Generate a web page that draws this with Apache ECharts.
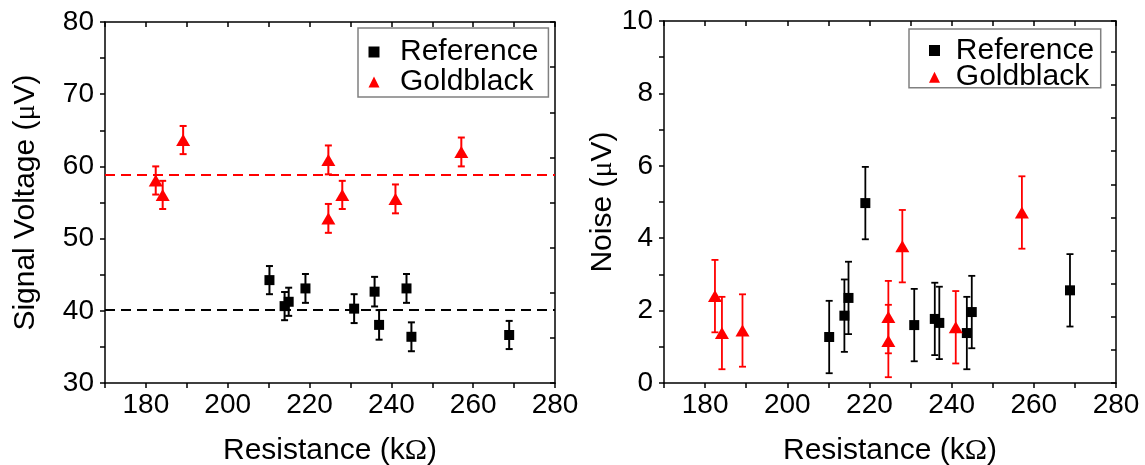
<!DOCTYPE html>
<html>
<head>
<meta charset="utf-8">
<script src="https://cdn.jsdelivr.net/npm/echarts@6/dist/echarts.min.js"></script>
<style>
  html, body { margin: 0; padding: 0; background: #fff; }
  #chart { width: 1145px; height: 465px; }
</style>
</head>
<body>
<div id="chart"></div>
<script>
// Reference samples: resistance (kΩ), signal (μV) and noise (μV), with error bars
const refResistance = [210.2, 213.9, 214.9, 219.0, 230.9, 235.9, 237.0, 243.7, 244.9, 268.8];
const refSignal = [44.25, 40.65, 41.25, 43.1, 40.3, 42.65, 38.05, 43.1, 36.4, 36.65];
const refSignalErr = [1.95, 1.95, 1.95, 2.0, 2.0, 2.05, 2.05, 2.0, 2.0, 1.95];
const refNoise = [1.27, 1.86, 2.35, 4.97, 1.6, 1.77, 1.66, 1.38, 1.96, 2.56];
const refNoiseErr = [1.0, 1.0, 1.0, 1.0, 1.0, 1.0, 1.0, 1.0, 1.0, 1.0];

// Goldblack samples
const gbResistance = [182.4, 184.1, 189.1, 224.6, 224.6, 228.0, 241.0, 257.1];
const gbSignal = [58.05, 56.05, 63.65, 60.9, 52.8, 56.05, 55.5, 62.0];
const gbSignalErr = [1.95, 1.95, 1.95, 2.0, 2.0, 1.95, 2.0, 2.0];
const gbNoise = [2.4, 1.38, 1.45, 1.82, 1.16, 3.78, 1.54, 4.71];
const gbNoiseErr = [1.0, 1.0, 1.0, 1.0, 1.0, 1.0, 1.0, 1.0];

// mean signal levels (dashed lines)
const refSignalMean = 40.1;
const gbSignalMean = 58.9;

const FONT = '"Liberation Sans", Arial, sans-serif';
const SERIF = '"Liberation Serif", "Times New Roman", serif';

const points = (xs, ys) => xs.map((x, i) => [x, ys[i]]);
const bars = (xs, ys, es) => xs.map((x, i) => [x, ys[i] - es[i], ys[i] + es[i]]);

function errorBar(width) {
  return function (params, api) {
    const x = api.value(0);
    const lo = api.coord([x, api.value(1)]);
    const hi = api.coord([x, api.value(2)]);
    const h = 3.5;
    const style = { stroke: api.visual('color'), lineWidth: width };
    return {
      type: 'group',
      children: [
        { type: 'line', shape: { x1: lo[0], y1: lo[1], x2: hi[0], y2: hi[1] }, style },
        { type: 'line', shape: { x1: hi[0] - h, y1: hi[1], x2: hi[0] + h, y2: hi[1] }, style },
        { type: 'line', shape: { x1: lo[0] - h, y1: lo[1], x2: lo[0] + h, y2: lo[1] }, style },
      ],
    };
  };
}

const axisLine = { onZero: false, lineStyle: { color: '#000', width: 1.5 } };
const tickOut = { show: true, inside: false, length: 5, lineStyle: { color: '#000', width: 1.5 } };
const tickIn = { show: true, inside: true, length: 5, lineStyle: { color: '#000', width: 1.5 } };
const nameStyle = {
  fontSize: 30, fontFamily: FONT, color: '#000', lineHeight: 30,
  rich: { s: { fontSize: 30, fontFamily: SERIF, color: '#000', lineHeight: 30 } },
};

function bottomX(grid) {
  return {
    type: 'value', gridIndex: grid, position: 'bottom',
    min: 170, max: 280, interval: 10,
    name: 'Resistance (k{s|Ω})', nameLocation: 'middle', nameGap: 53,
    nameTextStyle: nameStyle,
    axisLine, axisTick: tickOut,
    axisLabel: {
      margin: 8, fontSize: 28, fontFamily: FONT, color: '#000',
      formatter: (v) => (v % 20 === 0 ? String(v) : ''),
    },
    splitLine: { show: false },
  };
}
function topX(grid) {
  return {
    type: 'value', gridIndex: grid, position: 'top',
    min: 170, max: 280, interval: 10,
    axisLine, axisTick: tickIn, axisLabel: { show: false }, splitLine: { show: false },
  };
}
function leftY(grid, min, max, interval, labelStep, name, gap) {
  return {
    type: 'value', gridIndex: grid, position: 'left',
    min, max, interval,
    name, nameLocation: 'middle', nameGap: gap, nameTextStyle: nameStyle,
    axisLine, axisTick: tickOut,
    axisLabel: {
      margin: 11, fontSize: 28, fontFamily: FONT, color: '#000',
      formatter: (v) => (Math.abs(v % labelStep) < 1e-6 ? String(v) : ''),
    },
    splitLine: { show: false },
  };
}
function rightY(grid, max) {
  return {
    type: 'value', gridIndex: grid, position: 'right',
    min: 0, max, interval: 1,
    axisLine, axisTick: tickIn, axisLabel: { show: false }, splitLine: { show: false },
  };
}

function dashed(value, color) {
  return {
    silent: true, symbol: ['none', 'none'], label: { show: false },
    lineStyle: { color, type: [10, 6], width: 2 },
    data: [{ yAxis: value }],
  };
}

function legend(left, top, padding, gap, textPad) {
  return {
    orient: 'vertical', left, top, padding, itemGap: gap,
    itemWidth: 11, itemHeight: 11, selectedMode: false,
    borderColor: '#808080', borderWidth: 1.5, borderRadius: 0,
    textStyle: { fontSize: 30, fontFamily: FONT, color: '#000', padding: [0, 0, 0, textPad] },
    data: [{ name: 'Reference', icon: 'rect' }, { name: 'Goldblack', icon: 'triangle' }],
  };
}

const chart = echarts.init(document.getElementById('chart'));

chart.setOption({
  animation: false,
  backgroundColor: '#fff',
  grid: [
    { left: 105, top: 22, width: 450, height: 361, outerBoundsMode: 'none' },
    { left: 664, top: 21, width: 452, height: 362, outerBoundsMode: 'none' },
  ],
  legend: [
    legend(358, 28, [9, 10, 0, 10.5], 0, 15.5),
    legend(909, 29, [6.5, 6.5, -4.5, 20], -3.3, 10.8),
  ],
  xAxis: [bottomX(0), topX(0), bottomX(1), topX(1)],
  yAxis: [
    leftY(0, 30, 80, 5, 10, 'Signal Voltage ({s|μ}V)', 64),
    rightY(0, 8),
    leftY(1, 0, 10, 1, 2, 'Noise ({s|μ}V)', 44),
    rightY(1, 10.93),
  ],
  series: [
    {
      type: 'custom', xAxisIndex: 0, yAxisIndex: 0, itemStyle: { color: '#000' },
      renderItem: errorBar(2), data: bars(refResistance, refSignal, refSignalErr), z: 1,
    },
    {
      type: 'custom', xAxisIndex: 0, yAxisIndex: 0, itemStyle: { color: '#ff0000' },
      renderItem: errorBar(2), data: bars(gbResistance, gbSignal, gbSignalErr), z: 1,
    },
    {
      name: 'Reference', type: 'scatter', xAxisIndex: 0, yAxisIndex: 0,
      symbol: 'rect', symbolSize: 10, itemStyle: { color: '#000', opacity: 1 },
      data: points(refResistance, refSignal), z: 3,
      markLine: dashed(refSignalMean, '#000'),
    },
    {
      name: 'Goldblack', type: 'scatter', xAxisIndex: 0, yAxisIndex: 0,
      symbol: 'triangle', symbolSize: [14, 12], itemStyle: { color: '#ff0000', opacity: 1 },
      data: points(gbResistance, gbSignal), z: 3,
      markLine: dashed(gbSignalMean, '#ff0000'),
    },
    {
      type: 'custom', xAxisIndex: 2, yAxisIndex: 2, itemStyle: { color: '#000' },
      renderItem: errorBar(1.8), data: bars(refResistance, refNoise, refNoiseErr), z: 1,
    },
    {
      type: 'custom', xAxisIndex: 2, yAxisIndex: 2, itemStyle: { color: '#ff0000' },
      renderItem: errorBar(1.8), data: bars(gbResistance, gbNoise, gbNoiseErr), z: 1,
    },
    {
      name: 'Reference', type: 'scatter', xAxisIndex: 2, yAxisIndex: 2,
      symbol: 'rect', symbolSize: 10, itemStyle: { color: '#000', opacity: 1 },
      data: points(refResistance, refNoise), z: 3,
    },
    {
      name: 'Goldblack', type: 'scatter', xAxisIndex: 2, yAxisIndex: 2,
      symbol: 'triangle', symbolSize: [14, 12], itemStyle: { color: '#ff0000', opacity: 1 },
      data: points(gbResistance, gbNoise), z: 3,
    },
  ],
});
</script>
</body>
</html>
